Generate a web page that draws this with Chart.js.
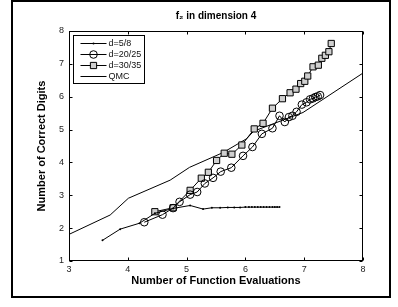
<!DOCTYPE html>
<html>
<head>
<meta charset="utf-8">
<script src="https://cdn.jsdelivr.net/npm/chart.js@4"></script>
<style>
body{margin:0;background:#fff;}
#wrap{position:relative;width:398px;height:307px;}
#frame{position:absolute;left:11px;top:0;width:376px;height:294px;border:2px solid #000;pointer-events:none;}
</style>
</head>
<body>
<div id="wrap"><canvas id="grafica" width="398" height="307"></canvas><div id="frame"></div></div>
<script>
// valores
const qmcX = [3.00, 3.70, 4.01, 4.72, 5.05, 5.62, 6.02, 6.14, 6.98, 8.00];
const qmcY = [1.81, 2.40, 2.91, 3.46, 3.85, 4.30, 4.72, 4.95, 5.52, 6.72];

const d58X = [3.57, 3.87, 4.20, 4.46, 4.77, 5.06, 5.28, 5.43, 5.57, 5.70, 5.81, 5.91,
              6.00, 6.06, 6.11, 6.16, 6.21, 6.26, 6.31, 6.36, 6.41, 6.46, 6.50, 6.54, 6.58];
const d58Y = [1.63, 1.97, 2.15, 2.45, 2.60, 2.69, 2.58, 2.62, 2.62, 2.63, 2.63, 2.63,
              2.64, 2.64, 2.64, 2.64, 2.64, 2.64, 2.64, 2.64, 2.64, 2.64, 2.64, 2.64, 2.64];

const d20X = [4.28, 4.59, 4.77, 4.88, 5.06, 5.18, 5.31, 5.45, 5.58, 5.76, 5.96, 6.12, 6.28,
              6.46, 6.58, 6.67, 6.74, 6.80, 6.87, 6.96, 7.04, 7.10, 7.15, 7.19, 7.23, 7.27];
const d20Y = [2.18, 2.41, 2.61, 2.80, 3.02, 3.10, 3.36, 3.53, 3.72, 3.84, 4.20, 4.47, 4.87,
              5.04, 5.42, 5.23, 5.38, 5.42, 5.54, 5.76, 5.83, 5.92, 5.95, 5.99, 6.01, 6.05];

const d30X = [4.46, 4.77, 5.06, 5.25, 5.37, 5.51, 5.64, 5.77, 5.94, 6.15, 6.30, 6.46,
              6.63, 6.76, 6.86, 6.94, 7.01, 7.06, 7.15, 7.24, 7.30, 7.36, 7.42, 7.46];
const d30Y = [2.50, 2.62, 3.15, 3.52, 3.70, 4.06, 4.28, 4.25, 4.53, 5.02, 5.19, 5.65,
              5.94, 6.12, 6.23, 6.40, 6.47, 6.63, 6.91, 6.96, 7.17, 7.26, 7.37, 7.62];

const xTicks = [3, 4, 5, 6, 7, 8];
const yTicks = [1, 2, 3, 4, 5, 6, 7, 8];

const fuente = '"Liberation Sans", Arial, Helvetica, sans-serif';

function pares(xs, ys) {
    return xs.map((v, i) => ({x: v, y: ys[i]}));
}

// caja, marcas hacia dentro y leyenda
const marco = {
    id: 'marco',
    afterDraw(chart) {
        const {ctx, chartArea: a, scales: {x, y}} = chart;
        ctx.save();
        ctx.strokeStyle = '#000';
        ctx.lineWidth = 1;
        const L = Math.round(a.left) + 0.5, R = Math.round(a.right) - 0.5;
        const T = Math.round(a.top) + 0.5, B = Math.round(a.bottom) - 0.5;
        ctx.strokeRect(L, T, R - L, B - T);
        ctx.beginPath();
        xTicks.forEach(v => {
            const px = Math.round(x.getPixelForValue(v)) + 0.5;
            ctx.moveTo(px, B); ctx.lineTo(px, B - 3);
            ctx.moveTo(px, T); ctx.lineTo(px, T + 3);
        });
        yTicks.forEach(v => {
            const py = Math.round(y.getPixelForValue(v)) + 0.5;
            ctx.moveTo(L, py); ctx.lineTo(L + 3, py);
            ctx.moveTo(R, py); ctx.lineTo(R - 3, py);
        });
        ctx.stroke();

        // leyenda
        const bx = L + 4, by = T + 4, bw = 71, bh = 48;
        ctx.fillStyle = '#fff';
        ctx.fillRect(bx, by, bw, bh);
        ctx.strokeRect(bx, by, bw, bh);
        ctx.font = '9px ' + fuente;
        ctx.textBaseline = 'middle';
        chart.data.datasets.forEach((ds, i) => {
            const ry = Math.round(T + 11 + i * 11) + 0.5;
            ctx.strokeStyle = '#000';
            ctx.beginPath();
            ctx.moveTo(L + 11, ry); ctx.lineTo(L + 37, ry);
            ctx.stroke();
            const mx = L + 24;
            if (ds.pointRadius > 0) {
                ctx.beginPath();
                if (ds.pointStyle === 'rect') {
                    const s = ds.pointRadius * Math.SQRT1_2;
                    ctx.rect(mx - s, ry - s, 2 * s, 2 * s);
                } else {
                    ctx.arc(mx, ry, ds.pointRadius, 0, Math.PI * 2);
                }
                ctx.fillStyle = ds.pointBackgroundColor;
                ctx.fill();
                if (ds.pointBorderWidth > 0) ctx.stroke();
            }
            ctx.fillStyle = '#111';
            ctx.fillText(ds.label, L + 39, ry);
        });
        ctx.restore();
    }
};

const grafica = document.querySelector('#grafica');
new Chart(grafica, {
    type: 'line',
    data: {
        datasets: [
            {
                label: 'd=5/8',
                data: pares(d58X, d58Y),
                borderColor: '#000', borderWidth: 1, tension: 0,
                pointStyle: 'circle', pointRadius: 1,
                pointBackgroundColor: '#000', pointBorderWidth: 0
            },
            {
                label: 'd=20/25',
                data: pares(d20X, d20Y),
                borderColor: '#000', borderWidth: 1, tension: 0,
                pointStyle: 'circle', pointRadius: 3.8,
                pointBackgroundColor: 'rgba(255,255,255,0)', pointBorderColor: '#000', pointBorderWidth: 1
            },
            {
                label: 'd=30/35',
                data: pares(d30X, d30Y),
                borderColor: '#000', borderWidth: 1, tension: 0,
                pointStyle: 'rect', pointRadius: 4.4,
                pointBackgroundColor: '#cfcfcf', pointBorderColor: '#000', pointBorderWidth: 1
            },
            {
                label: 'QMC',
                data: pares(qmcX, qmcY),
                borderColor: '#000', borderWidth: 1, tension: 0,
                pointRadius: 0, pointBorderWidth: 0
            }
        ]
    },
    options: {
        responsive: false,
        animation: false,
        events: [],
        layout: {padding: {top: 0, right: 35, bottom: 0, left: 0}},
        plugins: {
            legend: {display: false},
            tooltip: {enabled: false},
            title: {
                display: true,
                text: 'f₂ in dimension 4',
                fullSize: false,
                color: '#000',
                font: {family: fuente, size: 10, weight: 'bold'},
                padding: {top: 10, bottom: 9}
            }
        },
        scales: {
            x: {
                type: 'linear', min: 3, max: 8,
                afterBuildTicks: s => { s.ticks = xTicks.map(v => ({value: v})); },
                afterFit: s => { s.height = 46; },
                grid: {display: false, drawTicks: false},
                border: {display: false},
                ticks: {color: '#222', font: {family: fuente, size: 9}, padding: 3, maxRotation: 0},
                title: {
                    display: true, text: 'Number of Function Evaluations', color: '#000',
                    font: {family: fuente, size: 11, weight: 'bold'}, padding: {bottom: 19}
                }
            },
            y: {
                type: 'linear', min: 1, max: 8,
                afterBuildTicks: s => { s.ticks = yTicks.map(v => ({value: v})); },
                afterFit: s => { s.width = 69; },
                grid: {display: false, drawTicks: false},
                border: {display: false},
                ticks: {color: '#222', font: {family: fuente, size: 9}, padding: 5},
                title: {
                    display: true, text: 'Number of Correct Digits', color: '#000',
                    font: {family: fuente, size: 11, weight: 'bold'}, padding: {top: 35}
                }
            }
        }
    },
    plugins: [marco]
});
</script>
</body>
</html>
